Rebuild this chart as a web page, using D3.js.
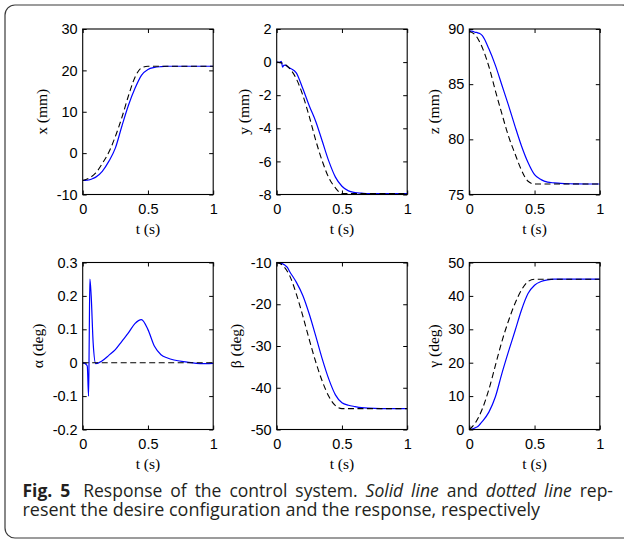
<!DOCTYPE html>
<html>
<head>
<meta charset="utf-8">
<script src="https://cdn.jsdelivr.net/npm/d3@7"></script>
<style>
  body { margin: 0; background: #fff; }
  svg { display: block; }
</style>
</head>
<body>
<script>
//Variables
    const width = 624;
    const height = 541;

//Data (time in s)
    const tDesired = [0, 0.05, 0.1, 0.15, 0.2, 0.25, 0.3, 0.35, 0.4, 0.45, 0.5, 0.55, 1];
    const tResponse = [0, 0.02, 0.035, 0.045, 0.05, 0.055, 0.065, 0.08, 0.1, 0.15, 0.2, 0.25, 0.3, 0.35, 0.4, 0.45, 0.5, 0.55, 0.6, 0.65, 0.7, 0.8, 0.9, 1];

    const xDesired = [-6.6, -6.0, -4.8, -2.5, 0.2, 4.0, 8.6, 13.8, 18.3, 20.6, 21, 21, 21];
    const xResponse = [-6.6, -6.6, -6.55, -6.5, -6.45, -6.4, -6.3, -6.1, -5.8, -4.4, -2.0, 1.2, 6.5, 11.5, 15.6, 18.8, 20.2, 20.7, 20.9, 21, 21, 21, 21, 21];

    const yDesired = [0, -0.08, -0.4, -1.0, -2.0, -3.3, -4.75, -6.0, -7.0, -7.6, -7.95, -7.95, -7.95];
    const yResponse = [0, -0.02, 0.05, -0.3, -0.25, -0.2, -0.18, -0.25, -0.35, -0.65, -1.6, -2.65, -3.6, -4.8, -6.0, -6.95, -7.5, -7.78, -7.88, -7.92, -7.95, -7.95, -7.95, -7.95];

    const zDesired = [89.8, 89.4, 88.3, 86.6, 84.4, 82.3, 80.3, 78.7, 77.2, 76.2, 75.95, 75.95, 75.95];
    const zResponse = [89.8, 89.8, 89.75, 89.7, 89.7, 89.7, 89.65, 89.6, 89.4, 88.2, 86.7, 84.9, 83.1, 81.2, 79.4, 77.9, 76.8, 76.35, 76.12, 76.05, 76.0, 75.97, 75.95, 75.95];

    const alphaDesired = [0, 0, 0, 0, 0, 0, 0, 0, 0, 0, 0, 0, 0];
    const alphaResponse = [0, -0.003, -0.01, -0.1, 0.07, 0.25, 0.2, 0.06, -0.003, 0.006, 0.022, 0.039, 0.064, 0.089, 0.117, 0.129, 0.099, 0.049, 0.024, 0.014, 0.008, 0.002, -0.003, -0.002];

    const betaDesired = [-10, -10.8, -13.2, -17.5, -22.8, -28.5, -33.9, -38.5, -42.1, -44.3, -45, -45, -45];
    const betaResponse = [-10, -10.05, -10.2, -10.3, -10.4, -10.5, -10.7, -11.1, -12.2, -14.7, -17.9, -22.4, -27.7, -33.2, -38.0, -41.7, -43.6, -44.2, -44.5, -44.75, -44.9, -45, -45, -45];

    const gammaDesired = [0, 2.2, 6.2, 12.0, 19.2, 26.4, 32.5, 37.7, 41.8, 44.3, 45, 45, 45];
    const gammaResponse = [0, 0.1, 0.3, 0.5, 0.6, 0.7, 0.9, 1.5, 2.4, 5.2, 9.8, 16.8, 23.3, 29.5, 35.8, 40.7, 43.2, 44.3, 44.8, 45, 45, 45, 45, 45];

//Ticks
    const tTicks = [0, 0.5, 1];
    const xTicks = [-10, 0, 10, 20, 30];
    const yTicks = [-8, -6, -4, -2, 0, 2];
    const zTicks = [75, 80, 85, 90];
    const alphaTicks = [-0.2, -0.1, 0, 0.1, 0.2, 0.3];
    const betaTicks = [-50, -40, -30, -20, -10];
    const gammaTicks = [0, 10, 20, 30, 40, 50];

    const panels = [
        {label: "x (mm)", desired: xDesired, response: xResponse, ticks: xTicks, col: 0, row: 0},
        {label: "y (mm)", desired: yDesired, response: yResponse, ticks: yTicks, col: 1, row: 0},
        {label: "z (mm)", desired: zDesired, response: zResponse, ticks: zTicks, col: 2, row: 0},
        {label: "α (deg)", desired: alphaDesired, response: alphaResponse, ticks: alphaTicks, col: 0, row: 1},
        {label: "β (deg)", desired: betaDesired, response: betaResponse, ticks: betaTicks, col: 1, row: 1},
        {label: "γ (deg)", desired: gammaDesired, response: gammaResponse, ticks: gammaTicks, col: 2, row: 1}
    ];

//Layout
    const colLeft = [82.7, 276.7, 469.3];
    const rowTop = [29, 262.5];
    const rowHeight = [165.5, 167];
    const plotWidth = 130.5;
    const tickFont = "Liberation Sans, Arial, sans-serif";
    const labelFont = "Liberation Serif, Times New Roman, serif";

//SVG creation
    const svg = d3.select("body")
        .append("svg")
        .attr("width", width)
        .attr("height", height);

//Frame of the figure
    svg.append("rect")
        .attr("x", 5)
        .attr("y", 5)
        .attr("width", 627)
        .attr("height", 533)
        .attr("rx", 10)
        .attr("fill", "none")
        .attr("stroke", "#3a3a3a")
        .attr("stroke-width", 1.2);

//Panels
    panels.forEach((p, i) => {
        const h = rowHeight[p.row];
        const g = svg.append("g")
            .attr("transform", `translate(${colLeft[p.col]}, ${rowTop[p.row]})`);

        const xScale = d3.scaleLinear().domain([0, 1]).range([0, plotWidth]);
        const yScale = d3.scaleLinear()
            .domain(d3.extent(p.ticks))
            .range([h, 0]);

        const fmt = d => String(d);

        //left axis with labels
        const left = g.append("g")
            .call(d3.axisLeft(yScale).tickValues(p.ticks).tickFormat(fmt).tickSizeInner(-4).tickSizeOuter(0).tickPadding(5));
        //right axis ticks only
        g.append("g")
            .attr("transform", `translate(${plotWidth}, 0)`)
            .call(d3.axisRight(yScale).tickValues(p.ticks).tickFormat("").tickSizeInner(-4).tickSizeOuter(0));
        //bottom axis with labels
        g.append("g")
            .attr("transform", `translate(0, ${h})`)
            .call(d3.axisBottom(xScale).tickValues(tTicks).tickFormat(fmt).tickSizeInner(-4).tickSizeOuter(0).tickPadding(9));
        //top axis ticks only
        g.append("g")
            .call(d3.axisTop(xScale).tickValues(tTicks).tickFormat("").tickSizeInner(-4).tickSizeOuter(0));

        g.selectAll(".domain").remove();
        g.selectAll(".tick line").attr("stroke", "#000");
        g.selectAll(".tick text")
            .attr("fill", "#000")
            .style("font-family", tickFont)
            .style("font-size", "14.5px");

        //lines
        const clipId = `clip${i}`;
        g.append("clipPath")
            .attr("id", clipId)
            .append("rect")
            .attr("width", plotWidth)
            .attr("height", h);

        const line = d3.line()
            .x(d => xScale(d[0]))
            .y(d => yScale(d[1]))
            .curve(d3.curveMonotoneX);

        g.append("path")
            .datum(tResponse.map((t, k) => [t, p.response[k]]))
            .attr("clip-path", `url(#${clipId})`)
            .attr("d", line)
            .attr("fill", "none")
            .attr("stroke", "#0000ff")
            .attr("stroke-width", 1.2);

        g.append("path")
            .datum(tDesired.map((t, k) => [t, p.desired[k]]))
            .attr("clip-path", `url(#${clipId})`)
            .attr("d", line)
            .attr("fill", "none")
            .attr("stroke", "#000")
            .attr("stroke-width", 1.1)
            .attr("stroke-dasharray", "6,3.5");

        //plot box
        g.append("rect")
            .attr("width", plotWidth)
            .attr("height", h)
            .attr("fill", "none")
            .attr("stroke", "#000")
            .attr("stroke-width", 1.1);

        //x label
        g.append("text")
            .text("t (s)")
            .attr("x", plotWidth / 2)
            .attr("y", h + 39.5)
            .attr("text-anchor", "middle")
            .style("font-family", labelFont)
            .style("font-size", "15.5px");

        //y label, placed beside the tick labels
        const lb = left.node().getBBox();
        g.append("text")
            .text(p.label)
            .attr("transform", `translate(${lb.x - 15}, ${h / 2}) rotate(-90)`)
            .attr("text-anchor", "middle")
            .attr("dy", "0.35em")
            .style("font-family", labelFont)
            .style("font-size", "15.5px");
    });

//Caption
    const capFont = "Open Sans, Noto Sans, sans-serif";
    const capLeft = 22.5;
    const cap1 = svg.append("text")
        .attr("x", capLeft)
        .attr("y", 497)
        .style("font-family", capFont)
        .style("font-size", "17.5px")
        .attr("fill", "#231f20");
    cap1.append("tspan").text("Fig. 5").style("font-weight", "bold");
    cap1.append("tspan").attr("dx", 5).text(" Response of the control system. ");
    cap1.append("tspan").text("Solid line").style("font-style", "italic");
    cap1.append("tspan").text(" and ");
    cap1.append("tspan").text("dotted line").style("font-style", "italic");
    cap1.append("tspan").text(" rep-");

    //justify the first line to the right margin
    const target1 = 613 - capLeft;
    const nSpaces = (cap1.text().match(/ /g) || []).length;
    let w1 = cap1.node().getBBox().width;
    cap1.style("word-spacing", `${(target1 - w1) / nSpaces}px`);
    w1 = cap1.node().getBBox().width;
    if (Math.abs(w1 - target1) > 2) {
        cap1.style("word-spacing", null)
            .attr("textLength", target1)
            .attr("lengthAdjust", "spacingAndGlyphs");
    }

    const cap2 = svg.append("text")
        .attr("x", capLeft)
        .attr("y", 516)
        .style("font-family", capFont)
        .style("font-size", "17.5px")
        .attr("fill", "#231f20")
        .text("resent the desire configuration and the response, respectively");
    cap2.attr("textLength", 540 - capLeft).attr("lengthAdjust", "spacingAndGlyphs");
</script>
</body>
</html>
